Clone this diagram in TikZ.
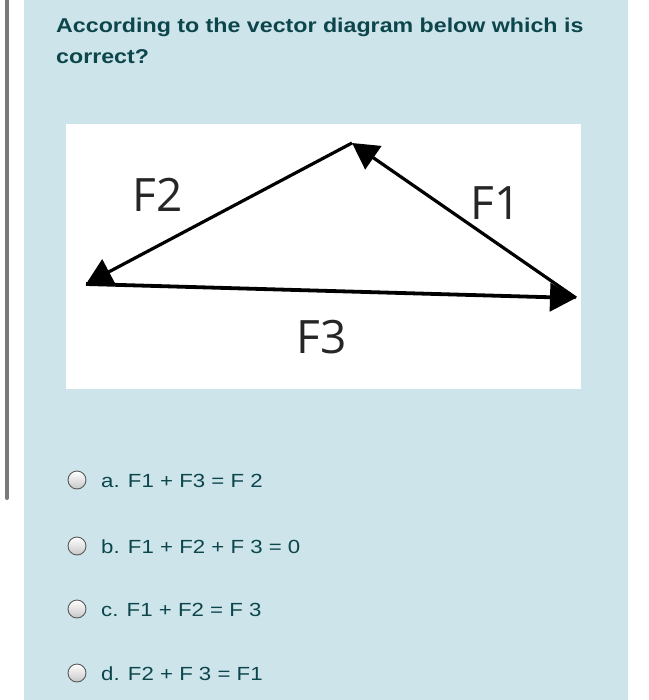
\documentclass[tikz,border=0pt]{standalone}
\usepackage{fontspec}
\setmainfont{Liberation Sans}
\newfontfamily\labelfont{Open Sans}
\newfontfamily\titlefont[FakeStretch=1.16]{Liberation Sans}
\newfontfamily\optfont[FakeStretch=1.17]{Liberation Sans}
\usetikzlibrary{arrows.meta}
\definecolor{panelblue}{RGB}{205,229,234}
\definecolor{qtext}{RGB}{12,70,76}
\definecolor{bargray}{RGB}{122,122,122}
\tikzset{
  vec/.style={line width=3.2pt, -{Triangle[length=26pt,width=28pt]}},
  flabel/.style={font=\labelfont\fontsize{46}{46}\selectfont, text=black!85, inner sep=0pt},
  qline/.style={anchor=base west, inner sep=0pt, text=qtext, font=\titlefont\bfseries\fontsize{20}{22}\selectfont},
  optline/.style={anchor=base west, inner sep=0pt, text=qtext, font=\optfont\fontsize{19}{21}\selectfont},
  radio/.style={draw=black!65, line width=0.9pt, top color=white, bottom color=black!22}
}
\begin{document}
\begin{tikzpicture}[x=1pt,y=-1pt]
            \useasboundingbox (0,0) rectangle (648,700);
            \fill [white](0,0) rectangle (648,700);
            \fill [panelblue](24,0) rectangle (628,700);
            \draw [bargray, line width=4pt, line cap=round](7,0) -- (7,498);
            \node [qline] (q1) at (56,33) {According to the vector diagram below which is};
            \node [qline] (q2) at (56,64) {correct?};
            \fill [white](66,124) rectangle (581,389);
            % vertices of the triangle
            \coordinate (left) at (86,284);
            \coordinate (top) at (352,143);
            \coordinate (right) at (576,298);
            \draw [vec](top) -- (left);
            \draw [vec](right) -- (top);
            \draw [vec, line width=3.8pt](left) -- (right);
            \node [flabel] (f2) at (158,195) {F2};
            \node [flabel] (f1) at (496,203) {F1};
            \node [flabel] (f3) at (322,337) {F3};
            % answers
            \foreach \y/\n/\t in {480/a/{a. F1 + F3 = F 2}, 546/b/{b. F1 + F2 + F 3 = 0}, 609/c/{c. F1 + F2 = F 3}, 673/d/{d. F2 + F 3 = F1}} {
              \draw [radio](77,\y) circle (9);
              \node [optline] (opt\n) at (101,\y+7) {\t};
            }
        \end{tikzpicture}
\end{document}
